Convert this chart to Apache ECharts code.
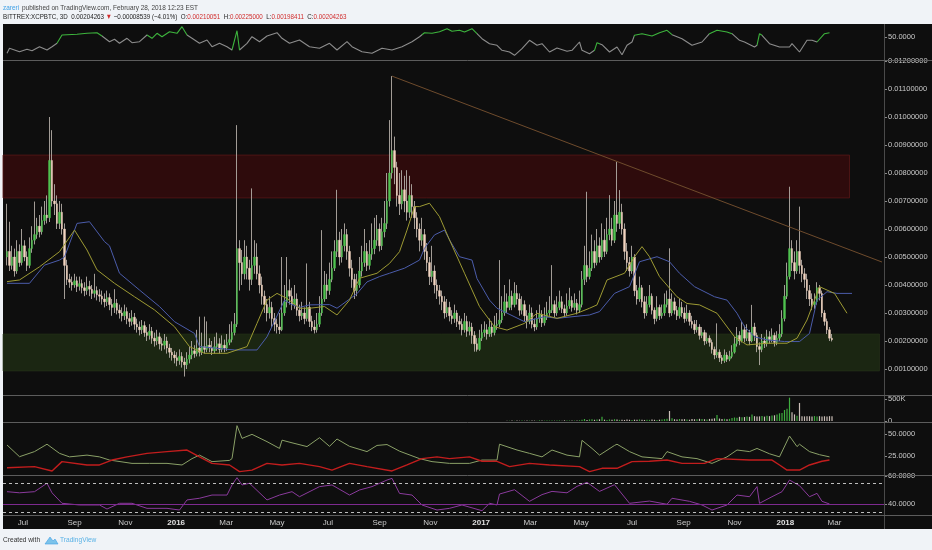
<!DOCTYPE html>
<html>
<head>
<meta charset="utf-8">
<script src="https://cdn.jsdelivr.net/npm/echarts@6/dist/echarts.min.js"></script>
<style>
html, body { margin: 0; padding: 0; background: #f0f3f7; }
#chart { width: 932px; height: 550px; }
</style>
</head>
<body>
<div id="chart"></div>
<script>
var DAY = 86400000;
var START = Date.UTC(2015, 5, 12);   // first 3D candle
var STEP = 3 * DAY;
var UNIT = 1e-5;                     // prices below are in 0.00001 BTC

var open0 = 500;
var closes = [
  520,470,500,450,520,480,540,500,470,530,
  560,580,610,590,630,650,640,845,700,690,
  620,660,600,470,420,410,400,415,395,405,
  390,380,395,385,370,380,365,360,350,340,
  355,330,320,335,310,300,290,305,280,270,
  285,260,250,240,255,230,220,235,210,200,
  215,190,185,200,175,160,150,140,130,145,
  125,115,135,150,165,155,175,160,180,170,
  185,175,165,180,190,170,185,175,195,205,
  230,260,530,480,440,500,460,420,470,500,
  440,400,360,330,300,320,280,260,250,240,
  300,340,380,360,330,350,310,290,300,280,
  320,270,250,240,260,300,350,400,380,420,
  460,520,560,500,540,580,520,460,420,380,
  400,450,480,520,470,510,530,560,600,540,
  590,620,700,800,880,820,720,690,740,700,
  660,720,680,640,600,560,580,520,480,430,
  450,400,380,360,340,300,320,290,280,300,
  270,260,240,270,235,250,220,190,170,210,
  230,240,225,250,230,255,260,275,300,340,
  320,360,330,370,350,310,330,290,270,300,
  260,250,280,295,265,285,300,310,330,300,
  320,340,315,300,325,345,320,335,310,330,
  420,470,430,460,520,480,540,500,560,520,
  580,600,560,650,620,660,600,520,480,450,
  500,380,350,390,340,300,330,360,310,280,
  320,290,300,330,350,300,340,310,290,320,
  300,280,300,270,260,240,250,220,230,200,
  210,195,170,150,160,140,130,150,135,145,
  160,190,220,200,240,210,230,200,250,220,
  180,170,200,190,215,205,220,195,210,225,
  280,360,430,530,480,450,520,470,440,420,
  380,350,330,340,390,370,300,270,240,210.051,
  204.263
];
var highs = [
  690,626,540,530,560,545,600,560,520,570,
  610,698,640,650,680,700,720,1000,953,760,
  720,700,690,620,490,440,430,440,430,430,
  420,410,430,415,400,440,395,385,380,370,
  380,370,350,385,350,330,320,330,320,300,
  310,300,280,270,275,270,250,260,250,230,
  240,230,210,225,215,190,175,165,160,170,
  160,140,160,180,200,185,240,287,230,287,
  270,210,200,215,230,210,220,205,225,260,
  270,300,971,560,525,560,540,490,745,560,
  549,470,430,380,350,360,340,300,280,300,
  500,400,500,420,390,400,370,330,340,320,
  477,340,290,275,300,360,596,450,440,480,
  520,560,740,590,600,620,600,540,490,440,
  440,500,540,600,550,560,620,640,650,620,
  640,700,800,989,1146,930,840,800,810,790,
  810,790,760,700,660,620,640,600,550,500,
  540,470,420,400,380,360,350,340,310,330,
  310,290,280,300,290,270,265,235,210,240,
  260,270,260,280,270,290,300,489,360,400,
  370,420,380,410,400,370,360,345,310,330,
  320,280,310,330,310,320,340,360,471,345,
  360,380,360,330,370,390,360,370,350,380,
  450,540,733,520,580,560,600,570,620,600,
  640,721,640,700,840,739,690,620,550,500,
  540,510,400,430,400,360,360,400,370,320,
  360,330,330,370,380,531,370,355,325,350,
  340,320,330,310,290,275,275,260,250,240,
  230,220,205,180,263,170,150,170,160,165,
  185,215,250,235,270,255,260,240,329,265,
  230,195,225,215,240,235,245,230,235,260,
  310,400,480,751,560,520,560,680,490,460,
  440,400,370,370,410,400,380,310,280,250,
  225
];
var lows = [
  470,450,455,430,440,465,470,485,450,460,
  515,545,565,570,580,615,620,625,680,650,
  600,600,580,350,400,390,380,390,375,380,
  370,360,365,360,350,355,345,340,330,320,
  325,310,290,300,295,280,270,275,260,250,
  255,240,230,220,225,215,200,205,190,180,
  185,170,165,170,155,140,130,120,110,115,
  105,73,100,120,135,140,145,145,150,155,
  160,160,150,155,165,155,160,160,165,185,
  195,220,250,380,400,420,420,380,400,440,
  420,370,330,300,270,280,250,235,227,225,
  235,290,320,330,310,315,290,270,275,260,
  270,250,235,227,230,250,290,340,350,365,
  410,450,500,470,480,520,490,430,390,350,
  360,390,430,465,450,455,490,510,540,520,
  525,570,600,680,780,760,680,650,670,660,
  630,640,640,600,570,520,540,490,450,400,
  410,370,350,330,310,280,285,270,260,265,
  250,240,220,230,215,220,190,162,162,165,
  200,215,205,215,215,220,240,250,265,290,
  300,310,310,320,330,290,295,270,245,260,
  245,235,240,265,250,255,275,290,300,285,
  290,310,300,285,290,315,305,310,295,300,
  320,400,410,420,450,460,470,480,490,500,
  510,560,540,550,590,600,580,490,450,430,
  440,360,330,340,320,280,290,320,295,260,
  270,275,280,290,320,285,290,295,275,280,
  285,265,270,255,245,225,230,205,210,185,
  190,180,155,135,140,125,118,122,125,128,
  138,155,180,185,195,195,200,185,195,200,
  160,114,160,175,180,190,195,180,185,200,
  215,270,350,420,450,420,440,440,410,390,
  350,325,310,315,330,345,285,255,225,200,
  198.411
];

// volume in thousands, candles from volStart on (earlier ones are ~0)
var volStart = 200;
var volumesK = [
  8,6,10,5,12,7,9,6,10,8,
  12,9,7,14,10,8,11,9,13,7,
  10,12,8,15,9,11,14,10,12,16,
  30,45,25,35,40,28,33,38,98,30,
  25,35,28,40,32,26,30,24,35,28,
  22,30,26,34,28,24,30,26,32,28,
  24,30,36,42,50,227,60,40,35,45,
  38,42,36,30,45,40,38,50,44,40,
  36,48,52,60,136,55,45,50,42,48,
  70,80,75,95,85,90,100,95,150,110,
  100,105,115,100,120,110,125,130,150,175,
  180,250,280,530,200,150,120,410,110,105,
  110,108,100,112,105,110,100,108,104,110,106
];

// [candle index, value] pairs
var maBlue = [[0,406],[9,406],[15,471],[21,489],[23,500],[28,620],[33,626],[39,555],[41,540],[45,442],[53,382],[61,323],[67,269],[75,227],[77,180],[91,168],[100,168],[104,215],[111,346],[114,330],[117,320],[121,329],[129,330],[132,317],[140,369],[144,411],[149,430],[153,442],[159,460],[165,489],[167,531],[171,579],[175,596],[177,561],[181,501],[186,489],[188,423],[193,346],[196,317],[207,269],[215,287],[220,281],[233,293],[237,305],[243,370],[249,394],[253,483],[260,501],[265,483],[269,442],[275,394],[283,358],[288,346],[292,299],[295,251],[299,215],[304,204],[311,198],[317,198],[321,227],[324,346],[328,376],[332,370],[338,370]];
var maYellow = [[0,412],[5,418],[13,465],[21,519],[27,596],[32,525],[36,454],[43,406],[51,358],[59,311],[67,251],[73,180],[79,156],[88,156],[96,180],[100,263],[104,346],[108,370],[112,352],[117,317],[121,317],[127,323],[132,293],[137,346],[141,424],[148,442],[153,477],[157,519],[160,596],[163,680],[165,680],[169,692],[173,644],[177,561],[183,442],[189,323],[195,251],[200,239],[207,263],[212,299],[220,281],[228,299],[233,317],[236,329],[240,418],[247,442],[251,501],[254,537],[257,501],[261,430],[268,358],[272,334],[277,329],[284,299],[291,215],[296,186],[304,192],[312,192],[316,210],[320,275],[323,346],[325,394],[331,370],[336,299]];

var oscTop = [[0,33.7],[1,38.7],[3,37],[5,35.3],[8,37.7],[10,36.3],[13,40.3],[16,37],[18,40.3],[20,43.7],[22,52],[28,52.7],[32,53.7],[36,54.3],[38,51],[41,45.3],[43,47.7],[45,43.7],[48,48.7],[50,44.3],[53,45.3],[56,52],[58,48.7],[60,53.7],[62,50.3],[65,55.3],[68,53.7],[70,60.3],[72,52],[74,48.7],[77,43.7],[80,47],[82,40.3],[85,43.7],[88,40.3],[90,37],[92,56.3],[93,37],[96,43.7],[98,50.3],[101,45.3],[104,51],[108,54.3],[110,48.7],[113,43.7],[117,47],[121,40.3],[125,38.7],[129,43.7],[132,37],[136,45.3],[138,40.3],[142,35.3],[146,33.7],[150,38.7],[154,37],[158,40.3],[162,45.3],[165,50.3],[167,54.3],[170,53.7],[173,55.3],[176,58.3],[178,55.7],[181,56.7],[183,55],[186,58.3],[188,53.3],[190,48.3],[193,43.3],[196,41.7],[198,36.7],[201,35],[203,31.7],[206,38.3],[209,46.7],[212,41.7],[214,43.3],[217,35],[220,39],[224,35.7],[226,36.7],[229,45],[230,36.7],[233,33.3],[235,36.7],[236,44.3],[238,42.3],[241,35],[244,40],[246,32.3],[248,41.7],[250,45],[251,51.7],[254,53.3],[258,51],[261,54.3],[264,56.7],[266,52.3],[270,48.3],[274,41.7],[278,45],[281,53.3],[284,56.7],[288,55],[290,53.3],[293,46.7],[295,45],[299,40],[300,41.7],[301,53.3],[302,51.7],[305,43.3],[309,40],[313,40],[314,43.3],[317,35],[320,46.7],[322,46.7],[324,45],[327,53.3],[329,54.3]];
var oscGreen = [[20,38],[56,72],[90,93],[166,188],[235,237],[251,266],[281,290],[300,302],[324,330]];

var dmiPlus = [[0,37.5],[5,24.2],[11,30],[16,38.4],[21,28],[25,24],[32,26],[37,24],[41,20.4],[50,16.6],[57,16.6],[64,16.6],[70,14.8],[74,22],[77,26],[82,18.6],[89,20],[90,22],[92,59.5],[94,45],[98,49.6],[104,41.3],[109,33.6],[110,43],[114,40],[120,35.7],[125,45.8],[129,36],[132,44.3],[137,36],[144,30],[148,37],[152,38],[157,30.5],[165,22],[170,18.6],[177,16.6],[185,16.6],[190,20.4],[196,20.4],[197,38.4],[204,31.8],[209,28],[214,24],[218,31.8],[224,26],[229,24],[230,42.8],[234,33.6],[237,26],[243,37],[244,38.4],[249,30],[254,24],[262,22],[264,30],[270,24],[276,22],[282,16.6],[288,24],[292,31.8],[297,30],[300,33.6],[305,27.5],[309,24],[313,47.7],[316,35.7],[317,38.4],[321,30],[325,26.5],[329,24]];
var dmiMinus = [[0,11.7],[11,12.9],[18,8],[22,18.6],[32,14.8],[37,14.8],[42,20.4],[48,24],[56,28],[64,30],[72,31.8],[77,24],[82,16.6],[89,14.8],[93,7.2],[98,9],[104,16.6],[110,14.8],[117,16.6],[125,12.9],[130,9],[137,16.6],[144,12.9],[154,8],[160,14.8],[166,22],[172,24],[177,22],[185,24],[190,19],[196,19],[201,12.9],[209,16.6],[217,14.8],[229,12.9],[233,7.2],[238,11],[244,11],[250,18.6],[257,19],[264,20.4],[270,16.6],[279,16.6],[284,22],[297,20.4],[306,20.4],[309,14.8],[312,9],[317,9],[321,14.8],[326,19],[329,20.4]];

var rsi = [[0,48.8],[5,48],[11,48.8],[16,54.8],[18,48],[22,40.5],[29,39.3],[37,39.3],[40,36.4],[45,40.5],[50,40.5],[56,36.9],[64,36.9],[69,35.7],[72,42.9],[77,44.1],[82,46.4],[88,46.4],[90,53.6],[92,58.8],[94,53.6],[97,54.8],[104,42.9],[109,46.4],[114,48.8],[117,45.2],[125,52.4],[130,53.6],[137,46.4],[141,50],[146,52.4],[152,57.1],[154,58.3],[157,47.6],[162,46.4],[166,39.3],[172,35.7],[177,36.9],[182,39.3],[190,35.2],[193,40.5],[196,39.3],[197,47.1],[203,50.2],[209,41.9],[214,46.7],[218,49],[224,48],[228,52.6],[232,55.5],[237,49],[243,53.8],[249,40.5],[257,42.1],[264,39.8],[266,44.1],[273,41.9],[278,39.3],[282,35.7],[288,39.3],[292,46.4],[297,45.2],[300,52.4],[301,40.5],[306,45.2],[310,48.8],[313,57.1],[317,53.1],[321,45.2],[324,47.6],[326,41.9],[329,40]];
var rsiLevels = [55, 40, 34.3];

// drawn zones and trend line (index, price in 0.00001 BTC)
var redZone = { end: 337, low: 711, high: 864 };
var greenZone = { end: 349, low: 93, high: 225 };
var trendFrom = [154, 1146], trendTo = [350, 482];
var lastPrice = 0.00204263;

var priceTicks = [0.001,0.002,0.003,0.004,0.005,0.006,0.007,0.008,0.009,0.010,0.011,0.012];
var tickMonths = ['2015-07','2015-09','2015-11','2016-01','2016-03','2016-05','2016-07','2016-09','2016-11','2017-01','2017-03','2017-05','2017-07','2017-09','2017-11','2018-01','2018-03'];
var monthNames = ['Jan','Feb','Mar','Apr','May','Jun','Jul','Aug','Sep','Oct','Nov','Dec'];

function t(i) { return START + i * STEP; }
var tMin = t(-1.6), tMax = t(350.8);
var tickTimes = tickMonths.map(function (s) {
  var p = s.split('-');
  return Date.UTC(+p[0], +p[1] - 1, 1);
});

var UP = '#4fc24f', DOWN = '#f3d5c1', WICK = '#b3ada6';
var LABEL = '#c9c9c9', FONT = 'Liberation Sans';

var wickData = [], bodyData = [], volData = [];
for (var i = 0; i < closes.length; i++) {
  var o = i === 0 ? open0 : closes[i - 1], c = closes[i];
  wickData.push([t(i), o * UNIT, c * UNIT, lows[i] * UNIT, highs[i] * UNIT]);
  bodyData.push([t(i), o * UNIT, c * UNIT, Math.min(o, c) * UNIT, Math.max(o, c) * UNIT]);
}
for (var k = 0; k < volumesK.length; k++) {
  var j = volStart + k;
  var up = closes[j] >= (j ? closes[j - 1] : open0);
  volData.push({ value: [t(j), volumesK[k] * 1000], itemStyle: { color: up ? '#3fae3f' : '#cbbfb8' } });
}
function pairs(list, scale) {
  return list.map(function (p) { return [t(p[0]), p[1] * (scale || 1)]; });
}

// x axes are plain value axes holding timestamps
function timeAxis(gi, show) {
  return {
    type: 'value', gridIndex: gi, min: tMin, max: tMax, scale: true,
    axisLine: { show: false }, axisTick: { show: false }, splitLine: { show: false },
    axisLabel: show ? {
      customValues: tickTimes, color: LABEL, fontSize: 8, fontFamily: FONT, margin: 4,
      formatter: function (v) {
        var d = new Date(v);
        return d.getUTCMonth() === 0 ? '{y|' + d.getUTCFullYear() + '}' : monthNames[d.getUTCMonth()];
      },
      rich: { y: { fontWeight: 'bold', color: '#e0e0e0', fontSize: 8, fontFamily: FONT } }
    } : { show: false }
  };
}
function rightAxis(gi, min, max, vals, fmt) {
  return {
    type: 'value', gridIndex: gi, position: 'right', min: min, max: max,
    splitLine: { show: false }, axisLine: { show: false },
    axisTick: { show: true, customValues: vals, length: 3, lineStyle: { color: '#8a8a8a' } },
    axisLabel: { customValues: vals, formatter: fmt, color: LABEL, fontSize: 7.5, fontFamily: FONT, margin: 4 }
  };
}
function fixed4(v) { return v.toFixed(4); }

var series = [
  { // wicks
    type: 'candlestick', xAxisIndex: 1, yAxisIndex: 1, z: 2,
    dimensions: ['time', 'open', 'close', 'lowest', 'highest'],
    encode: { x: 'time', y: ['open', 'close', 'lowest', 'highest'] },
    data: wickData, barWidth: 0.9,
    itemStyle: { color: WICK, color0: WICK, borderColor: WICK, borderColor0: WICK, borderWidth: 0.9 },
    markArea: {
      silent: true,
      data: [
        [{ coord: [tMin, redZone.high * UNIT], itemStyle: { color: '#2e0b0c', borderColor: '#561617', borderWidth: 0.8 } },
         { coord: [t(redZone.end), redZone.low * UNIT] }],
        [{ coord: [tMin, greenZone.high * UNIT], itemStyle: { color: '#1b2612', borderColor: '#26331a', borderWidth: 0.6 } },
         { coord: [t(greenZone.end), greenZone.low * UNIT] }]
      ]
    },
    markLine: {
      silent: true, symbol: 'none', label: { show: false },
      lineStyle: { color: '#6e4b2c', width: 1, type: 'solid' },
      data: [[{ coord: [t(trendFrom[0]), trendFrom[1] * UNIT] }, { coord: [t(trendTo[0]), trendTo[1] * UNIT] }]]
    }
  },
  { // bodies
    type: 'candlestick', xAxisIndex: 1, yAxisIndex: 1, z: 3,
    dimensions: ['time', 'open', 'close', 'lowest', 'highest'],
    encode: { x: 'time', y: ['open', 'close', 'lowest', 'highest'] },
    data: bodyData, barWidth: 2,
    itemStyle: { color: UP, color0: DOWN, borderColor: UP, borderColor0: DOWN, borderWidth: 0.4 },
    markLine: {
      silent: true, symbol: 'none',
      lineStyle: { opacity: 0 },
      label: {
        position: 'end', distance: 2, formatter: lastPrice.toFixed(8),
        backgroundColor: '#ffffff', color: '#222', fontSize: 7.5, fontFamily: FONT,
        padding: [2, 3, 1, 3], borderColor: '#999', borderWidth: 0.5
      },
      data: [{ yAxis: lastPrice }]
    }
  },
  { type: 'line', xAxisIndex: 1, yAxisIndex: 1, z: 4, data: pairs(maBlue, UNIT), showSymbol: false,
    lineStyle: { color: '#4b5cab', width: 1 } },
  { type: 'line', xAxisIndex: 1, yAxisIndex: 1, z: 4, data: pairs(maYellow, UNIT), showSymbol: false,
    lineStyle: { color: '#9d9a33', width: 1 } },
  { type: 'line', xAxisIndex: 0, yAxisIndex: 0, data: pairs(oscTop), showSymbol: false,
    lineStyle: { width: 1.1 } },
  { type: 'bar', xAxisIndex: 2, yAxisIndex: 2, data: volData, barWidth: 1.2 },
  { type: 'line', xAxisIndex: 3, yAxisIndex: 3, data: pairs(dmiPlus), showSymbol: false,
    lineStyle: { color: '#8aa067', width: 1 } },
  { type: 'line', xAxisIndex: 3, yAxisIndex: 3, data: pairs(dmiMinus), showSymbol: false,
    lineStyle: { color: '#c21d1d', width: 1.4 } },
  { type: 'line', xAxisIndex: 4, yAxisIndex: 4, data: pairs(rsi), showSymbol: false,
    lineStyle: { color: '#8a3a9c', width: 1 },
    markLine: {
      silent: true, symbol: 'none', label: { show: false },
      data: rsiLevels.map(function (v) {
        return v === 40
          ? { yAxis: v, lineStyle: { color: '#7d2a8f', width: 1.2, type: 'solid' } }
          : { yAxis: v, lineStyle: { color: '#bdbdbd', width: 1, type: [3, 3] } };
      })
    } }
];

var sepY = [60.5, 395.5, 422.5, 475.5, 515.5];
var graphics = [
  { type: 'rect', z: -10, silent: true, shape: { x: 3, y: 24, width: 929, height: 505 }, style: { fill: '#0e0e0e' } },
  { type: 'line', z: 10, silent: true, shape: { x1: 884.5, y1: 24, x2: 884.5, y2: 529 }, style: { stroke: '#4a4a4a', lineWidth: 1 } },
  { type: 'text', x: 3, y: 2, scaleX: 0.86, silent: true, style: {
      text: '{a|zareri} {b|published on TradingView.com, February 28, 2018 12:23 EST}',
      rich: { a: { fill: '#3fa0e6', fontSize: 7.5, fontFamily: FONT },
              b: { fill: '#444', fontSize: 7.5, fontFamily: FONT } } } },
  { type: 'text', x: 3, y: 13, scaleX: 0.83, silent: true, style: {
      text: '{k|BITTREX:XCPBTC, 3D  0.00204263 }{r|▼}{k| −0.00008539 (−4.01%)  O:}{r|0.00210051}{k|  H:}{r|0.00225000}{k|  L:}{r|0.00198411}{k|  C:}{r|0.00204263}',
      rich: { k: { fill: '#222', fontSize: 7.5, fontFamily: FONT },
              r: { fill: '#d02b2b', fontSize: 7.5, fontFamily: FONT } } } },
  { type: 'text', x: 3, y: 536, scaleX: 0.88, silent: true, style: {
      text: 'Created with', fill: '#333', fontSize: 7.5, fontFamily: FONT } },
  { type: 'polygon', silent: true, shape: { points: [[45, 544], [50, 537], [53, 541], [55, 539], [58, 544]] },
    style: { fill: '#7cc3ea', stroke: '#3fa0e6', lineWidth: 0.6 } },
  { type: 'text', x: 60, y: 536, scaleX: 0.88, silent: true, style: {
      text: 'TradingView', fill: '#5ab2e6', fontSize: 7.5, fontFamily: FONT } }
];
sepY.forEach(function (y) {
  graphics.push({ type: 'line', z: 10, silent: true, shape: { x1: 3, y1: y, x2: 932, y2: y }, style: { stroke: '#5c5c5c', lineWidth: 1 } });
});

var chart = echarts.init(document.getElementById('chart'));
chart.setOption({
  animation: false,
  backgroundColor: '#f0f3f7',
  textStyle: { fontFamily: FONT },
  grid: [
    { left: 3, right: 48, top: 25, height: 35 },
    { left: 3, right: 48, top: 61, height: 336 },
    { left: 3, right: 48, top: 396, height: 25 },
    { left: 3, right: 48, top: 423, height: 52 },
    { left: 3, right: 48, top: 476, height: 39 }
  ],
  xAxis: [timeAxis(0, false), timeAxis(1, false), timeAxis(2, false), timeAxis(3, false), timeAxis(4, true)],
  yAxis: [
    rightAxis(0, 27, 62, [50], fixed4),
    rightAxis(1, 0, 0.012, priceTicks, function (v) { return v.toFixed(8); }),
    rightAxis(2, 0, 568000, [0, 500000], function (v) { return v === 0 ? '0' : Math.round(v / 1000) + 'K'; }),
    rightAxis(3, 3.4, 62.5, [25, 50], fixed4),
    rightAxis(4, 32.14, 60, [40, 60], fixed4)
  ],
  visualMap: [{
    type: 'piecewise', show: false, seriesIndex: 4, dimension: 0,
    pieces: oscGreen.map(function (r) { return { gte: t(r[0]), lte: t(r[1]), color: '#3cb43c' }; }),
    outOfRange: { color: '#8c8c8c' }
  }],
  graphic: graphics,
  series: series
});
</script>
</body>
</html>
